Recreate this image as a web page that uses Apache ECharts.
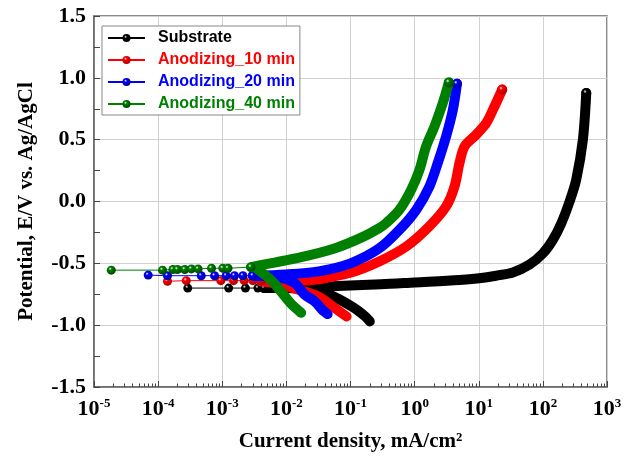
<!DOCTYPE html>
<html>
<head>
<meta charset="utf-8">
<script src="https://cdn.jsdelivr.net/npm/echarts@6/dist/echarts.min.js"></script>
<style>
  html, body { margin: 0; padding: 0; background: #fff; }
  #chart { width: 631px; height: 467px; }
</style>
</head>
<body>
<div id="chart"></div>
<script>
// sample names and colours
const names = ['Substrate', 'Anodizing_10 min', 'Anodizing_20 min', 'Anodizing_40 min'];
const colors = ['#000000', '#ff0000', '#0000ff', '#008000'];
const darks = ['#000000', '#a00000', '#000090', '#004000'];

// [current density mA/cm2, potential V]
// sparse points around the corrosion potential
const subEcorr = [[2.9e-4, -0.70], [1.26e-3, -0.70], [2.3e-3, -0.70], [3.6e-3, -0.70], [4.6e-3, -0.70]];
const a10Ecorr = [[1.4e-4, -0.645], [2.75e-4, -0.64], [9.5e-4, -0.64], [1.5e-3, -0.64], [2.2e-3, -0.64], [3.0e-3, -0.64], [4.1e-3, -0.64]];
const a20Ecorr = [[7e-5, -0.595], [1.4e-4, -0.60], [4.7e-4, -0.60], [7.6e-4, -0.60], [1.15e-3, -0.60], [1.55e-3, -0.60], [2.1e-3, -0.60]];
const a40Ecorr = [[1.86e-5, -0.555], [1.17e-4, -0.555], [1.7e-4, -0.55], [2.0e-4, -0.55], [2.6e-4, -0.55], [3.3e-4, -0.545], [4.2e-4, -0.545], [6.8e-4, -0.54], [1.02e-3, -0.54], [1.23e-3, -0.54]];

// cathodic branches (from the -1 V end up to Ecorr)
const subCath = [[0.2, -0.97], [0.17, -0.93], [0.105, -0.85], [0.05, -0.76], [0.025, -0.72], [0.01, -0.70], [0.0045, -0.70]];
const a10Cath = [[0.087, -0.93], [0.072, -0.90], [0.05, -0.84], [0.032, -0.77], [0.017, -0.72], [0.008, -0.67], [0.004, -0.645]];
const a20Cath = [[0.044, -0.91], [0.037, -0.88], [0.028, -0.81], [0.019, -0.75], [0.0135, -0.66], [0.007, -0.61], [0.003, -0.60]];
const a40Cath = [[0.017, -0.90], [0.012, -0.83], [0.0083, -0.73], [0.0059, -0.64], [0.0036, -0.55]];

// anodic branches
const subAnod = [[0.0045, -0.70], [0.01, -0.695], [0.05, -0.685], [0.3, -0.67], [1, -0.655], [5, -0.635], [10.2, -0.62], [18.6, -0.60], [34, -0.574], [62, -0.51], [100, -0.42], [143, -0.31], [194, -0.175], [261, 0.0], [331, 0.176], [421, 0.50], [475, 0.877]];
const a10Anod = [[0.004, -0.64], [0.017, -0.64], [0.1, -0.575], [0.28, -0.485], [0.74, -0.364], [1.7, -0.20], [3.1, -0.04], [4.19, 0.121], [5.0, 0.31], [6.0, 0.445], [9.1, 0.54], [13.1, 0.634], [17.6, 0.769], [23.2, 0.905]];
const a20Anod = [[0.003, -0.60], [0.01, -0.59], [0.032, -0.565], [0.1, -0.50], [0.28, -0.38], [0.58, -0.229], [1.06, -0.067], [1.7, 0.121], [2.29, 0.31], [3.1, 0.527], [3.95, 0.742], [4.57, 0.952]];
const a40Anod = [[0.0028, -0.53], [0.017, -0.45], [0.056, -0.38], [0.15, -0.29], [0.28, -0.215], [0.36, -0.175], [0.58, -0.067], [0.885, 0.095], [1.19, 0.256], [1.51, 0.445], [2.04, 0.607], [2.75, 0.796], [3.42, 0.963]];

const ecorrData = [subEcorr, a10Ecorr, a20Ecorr, a40Ecorr];
const cathData = [subCath, a10Cath, a20Cath, a40Cath];
const anodData = [subAnod, a10Anod, a20Anod, a40Anod];

const yTicks = [-1.5, -1.0, -0.5, 0.0, 0.5, 1.0, 1.5];
const xDecades = [-5, -4, -3, -2, -1, 0, 1, 2, 3];

// log minor tick positions (2..9 in every decade), as exponents
let xMinor = [];
xDecades.slice(0, -1).forEach(d => {
    for (let m = 2; m <= 9; m++) xMinor.push(d + Math.log10(m));
});

const serif = 'Liberation Serif';
const sans = 'Liberation Sans';

function sphere(c, dark) {
    return {
        type: 'radial', x: 0.38, y: 0.35, r: 0.7,
        colorStops: [
            {offset: 0, color: '#ffffff'},
            {offset: 0.25, color: c},
            {offset: 1, color: dark}
        ]
    };
}

let series = [];
names.forEach((name, i) => {
    // thick band standing in for the dense overlapping markers
    [cathData[i], anodData[i]].forEach((d, k) => {
        series.push({
            name: name + '_band' + k,
            type: 'line',
            data: d,
            smooth: 0.3,
            symbol: 'circle',
            symbolSize: (v, p) => (k === 1 && p.dataIndex === d.length - 1) ? 10 : 0,
            itemStyle: {color: sphere(colors[i], darks[i])},
            lineStyle: {color: colors[i], width: 10, cap: 'round', join: 'round'},
            z: 2 + i,
            silent: true
        });
    });
    series.push({
        name: name,
        type: 'line',
        data: ecorrData[i].concat([anodData[i][0]]),
        symbol: 'circle',
        symbolSize: 9,
        showAllSymbol: true,
        itemStyle: {color: sphere(colors[i], darks[i])},
        lineStyle: {color: colors[i], width: 1},
        z: 2 + i
    });
});

let chart = echarts.init(document.getElementById('chart'));
chart.setOption({
    animation: false,
    grid: {
        left: 94, right: 24, top: 16, bottom: 80,
        show: true, borderColor: '#666', borderWidth: 1.5
    },
    legend: {
        orient: 'vertical',
        left: 102, top: 26,
        padding: [3, 5, 2, 5],
        backgroundColor: '#fff',
        borderColor: '#888', borderWidth: 1,
        itemWidth: 37, itemHeight: 10, itemGap: 4,
        data: names.map((n, i) => ({
            name: n,
            textStyle: {color: colors[i]}
        })),
        textStyle: {fontFamily: sans, fontWeight: 'bold', fontSize: 16, lineHeight: 18, padding: [0, 0, 0, 8]}
    },
    xAxis: [{
        type: 'log', logBase: 10, min: 1e-5, max: 1e3,
        name: 'Current density, mA/cm\u00b2',
        nameLocation: 'middle', nameGap: 44,
        nameTextStyle: {fontFamily: serif, fontWeight: 'bold', fontSize: 21, color: '#000'},
        axisLine: {onZero: false, lineStyle: {color: '#666', width: 1.5}},
        axisTick: {inside: true, length: 6, lineStyle: {color: '#444'}},
        splitLine: {show: true, lineStyle: {color: '#d0d0d0', width: 1}},
        axisLabel: {
            margin: 10,
            formatter: v => '{b|10}{s|' + Math.round(Math.log10(v)) + '}',
            rich: {
                b: {fontFamily: serif, fontWeight: 'bold', fontSize: 22, color: '#000'},
                s: {fontFamily: serif, fontWeight: 'bold', fontSize: 13, color: '#000', padding: [0, 0, 12, 0]}
            }
        }
    }, {
        // minor ticks only, on a linear exponent scale over the same span
        type: 'value', min: xDecades[0], max: xDecades[xDecades.length - 1],
        position: 'bottom',
        axisLine: {show: false, onZero: false},
        axisLabel: {show: false},
        splitLine: {show: false},
        axisTick: {show: true, inside: true, length: 3.5, customValues: xMinor, lineStyle: {color: '#444'}}
    }],
    yAxis: {
        type: 'value', min: yTicks[0], max: yTicks[yTicks.length - 1], interval: 0.5,
        name: 'Potential, E/V vs. Ag/AgCl',
        nameLocation: 'middle', nameGap: 57,
        nameTextStyle: {fontFamily: serif, fontWeight: 'bold', fontSize: 21, color: '#000'},
        axisLine: {show: true, onZero: false, lineStyle: {color: '#666', width: 1.5}},
        axisTick: {show: true, inside: true, length: 6, lineStyle: {color: '#444'}},
        minorTick: {show: true, splitNumber: 2, length: 6, lineStyle: {color: '#444'}},
        splitLine: {show: true, lineStyle: {color: '#d0d0d0', width: 1}},
        axisLabel: {
            margin: 8,
            formatter: v => v.toFixed(1),
            fontFamily: serif, fontWeight: 'bold', fontSize: 22, color: '#000'
        }
    },
    series: series
});
</script>
</body>
</html>
